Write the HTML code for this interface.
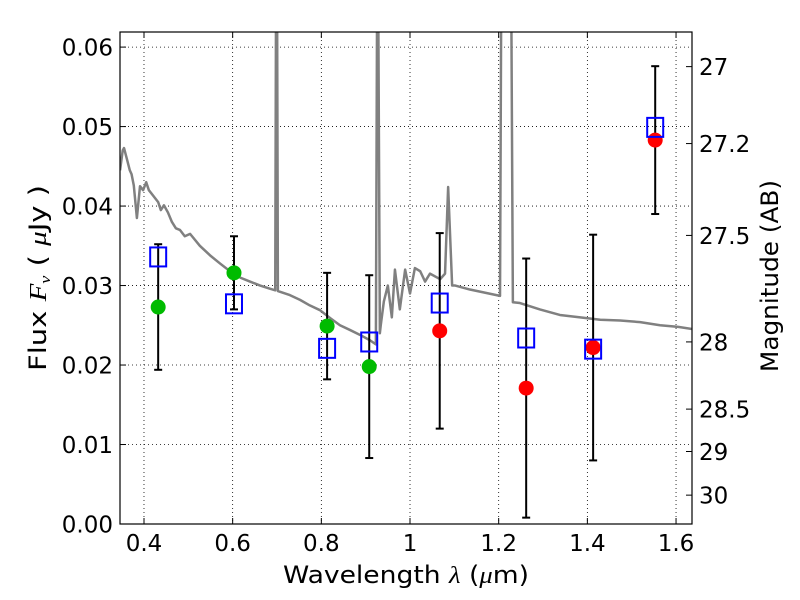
<!DOCTYPE html>
<html><head><meta charset="utf-8"><style>
body{margin:0;background:#fff;}
svg{display:block;font-family:"DejaVu Sans","Liberation Sans",sans-serif;}
</style></head><body>
<svg id="chart" width="800" height="600" viewBox="0 0 800 600">
<defs><clipPath id="clip"><rect x="120" y="32" width="572" height="492"/></clipPath></defs>
<rect x="0" y="0" width="800" height="600" fill="#fff"/>
<g id="grid"></g>
<g id="plot" clip-path="url(#clip)"></g>
<rect x="120" y="32" width="572" height="492" fill="none" stroke="#000" stroke-width="1.2"/>
<g id="axes"></g>
<text x="406" y="583" font-size="24" text-anchor="middle" textLength="246" lengthAdjust="spacingAndGlyphs">Wavelength  <tspan font-style="italic" font-family="Liberation Serif,serif">λ</tspan> (<tspan font-style="italic" font-family="Liberation Serif,serif">μ</tspan>m)</text>
<text transform="translate(46,278) rotate(-90)" font-size="24" text-anchor="middle" textLength="186" lengthAdjust="spacingAndGlyphs">Flux  <tspan font-style="italic" font-family="Liberation Serif,serif">F<tspan font-size="15" dy="4">ν</tspan></tspan><tspan dy="-4">  (  </tspan><tspan font-style="italic" font-family="Liberation Serif,serif">μ</tspan>Jy )</text>
<text transform="translate(778,276) rotate(-90)" font-size="24" text-anchor="middle" textLength="192" lengthAdjust="spacingAndGlyphs">Magnitude (AB)</text>
</svg>
<script>
const xTicks=[0.4,0.6,0.8,1.0,1.2,1.4,1.6];
const xTickLabels=["0.4","0.6","0.8","1","1.2","1.4","1.6"];
const yTicks=[0,0.01,0.02,0.03,0.04,0.05,0.06];
const yTickLabels=["0.00","0.01","0.02","0.03","0.04","0.05","0.06"];
const magTicks=[27,27.2,27.5,28,28.5,29,30];
const magTickLabels=["27","27.2","27.5","28","28.5","29","30"];
const bandWave=[0.432,0.603,0.813,0.908,1.067,1.262,1.413,1.553];
const obsFlux=[0.0273,0.0316,0.0249,0.0198,0.0243,0.0171,0.0222,0.0483];
const obsErr=[0.0079,0.0046,0.0067,0.0115,0.0123,0.0163,0.0142,0.0093];
const obsColor=["#00bb00","#00bb00","#00bb00","#00bb00","#ff0000","#ff0000","#ff0000","#ff0000"];
const modelFlux=[0.0336,0.0277,0.0221,0.0229,0.0278,0.0234,0.0220,0.0499];
const specWave=[0.346,0.352,0.355,0.362,0.368,0.372,0.377,0.384,0.391,0.398,0.405,0.411,0.418,0.425,0.432,0.438,0.445,0.454,0.463,0.472,0.481,0.492,0.504,0.526,0.549,0.571,0.594,0.617,0.639,0.662,0.684,0.696,0.698,0.700,0.702,0.729,0.752,0.774,0.797,0.820,0.842,0.865,0.887,0.910,0.923,0.926,0.928,0.932,0.934,0.941,0.950,0.959,0.966,0.977,0.989,1.000,1.011,1.023,1.034,1.045,1.068,1.079,1.086,1.095,1.102,1.135,1.203,1.206,1.228,1.232,1.248,1.293,1.338,1.384,1.429,1.474,1.519,1.564,1.605,1.640];
const specFlux=[0.0445,0.0470,0.0473,0.0458,0.0445,0.0440,0.0426,0.0385,0.0425,0.0420,0.0430,0.0420,0.0415,0.0410,0.0405,0.0395,0.0401,0.0392,0.0380,0.0372,0.0370,0.0362,0.0365,0.0350,0.0338,0.0328,0.0318,0.0310,0.0305,0.0300,0.0296,0.0294,0.0700,0.0700,0.0293,0.0288,0.0282,0.0275,0.0269,0.0259,0.0250,0.0244,0.0238,0.0231,0.0226,0.0700,0.0700,0.0240,0.0250,0.0280,0.0300,0.0260,0.0320,0.0270,0.0320,0.0290,0.0322,0.0318,0.0305,0.0315,0.0308,0.0315,0.0424,0.0300,0.0300,0.0295,0.0287,0.0700,0.0700,0.0279,0.0278,0.0270,0.0263,0.0260,0.0257,0.0256,0.0254,0.0250,0.0248,0.0245];
const X0=0.3459,X1=1.636,Y0=0,Y1=0.0619;
const L=120,R=692,T=32,B=524;
const sx=v=>L+(v-X0)/(X1-X0)*(R-L);
const sy=v=>B-(v-Y0)/(Y1-Y0)*(B-T);
const magToFlux=m=>Math.pow(10,(23.9-m)/2.5);
const NS="http://www.w3.org/2000/svg";
function mk(tag,attrs,parent){const e=document.createElementNS(NS,tag);for(const k in attrs)e.setAttribute(k,attrs[k]);parent.appendChild(e);return e;}
const grid=document.getElementById('grid'),plot=document.getElementById('plot'),axes=document.getElementById('axes');
xTicks.forEach((v,i)=>{
  const x=sx(v);
  const g=mk('line',{x1:x,x2:x,y1:T,y2:B,stroke:'#000','stroke-width':0.8,'stroke-dasharray':'1,3'},grid);
  
  
  const t1=mk('line',{x1:x,x2:x,y1:B,y2:B-6,stroke:'#000'},axes);
  
  
  const t2=mk('line',{x1:x,x2:x,y1:T,y2:T+6,stroke:'#000'},axes);
  
  
  const lb=mk('text',{x:x,y:B+27,'font-size':23,'text-anchor':'middle'},axes);
  lb.textContent=xTickLabels[i];
  
  
});
yTicks.forEach((v,i)=>{
  const y=sy(v);
  const g=mk('line',{x1:L,x2:R,y1:y,y2:y,stroke:'#000','stroke-width':0.8,'stroke-dasharray':'1,3'},grid);
  
  
  const t=mk('line',{x1:L,x2:L+6,y1:y,y2:y,stroke:'#000'},axes);
  
  
  const lb=mk('text',{x:L-7,y:y+8.5,'font-size':23,'text-anchor':'end'},axes);
  lb.textContent=yTickLabels[i];
  
  
});
magTicks.forEach((m,i)=>{
  const y=sy(magToFlux(m));
  const t=mk('line',{x1:R-6,x2:R,y1:y,y2:y,stroke:'#000'},axes);
  
  
  const lb=mk('text',{x:R+7,y:y+8.5,'font-size':23},axes);
  lb.textContent=magTickLabels[i];
  
  
});
const spec=mk('polyline',{points:specWave.map((w,i)=>sx(w)+','+sy(specFlux[i])).join(' '),fill:'none',stroke:'#808080','stroke-width':2.5,'stroke-linejoin':'round'},plot);


bandWave.forEach((w,i)=>{
  const x=sx(w),yt=sy(obsFlux[i]+obsErr[i]),yb=sy(obsFlux[i]-obsErr[i]);
  const eg=mk('g',{stroke:'#000','stroke-width':2},plot);
  
  
  mk('line',{x1:x,x2:x,y1:yt,y2:yb},eg);
  mk('line',{x1:x-4,x2:x+4,y1:yt,y2:yt},eg);
  mk('line',{x1:x-4,x2:x+4,y1:yb,y2:yb},eg);
});
bandWave.forEach((w,i)=>{
  const c=mk('circle',{cx:sx(w),cy:sy(obsFlux[i]),r:7.5,fill:obsColor[i]},plot);
  
  
});
bandWave.forEach((w,i)=>{
  const s=mk('rect',{x:sx(w)-8,y:sy(modelFlux[i])-9.5,width:16,height:19,fill:'none',stroke:'#0000ff','stroke-width':2},plot);
  
  
});
</script>
</body></html>
